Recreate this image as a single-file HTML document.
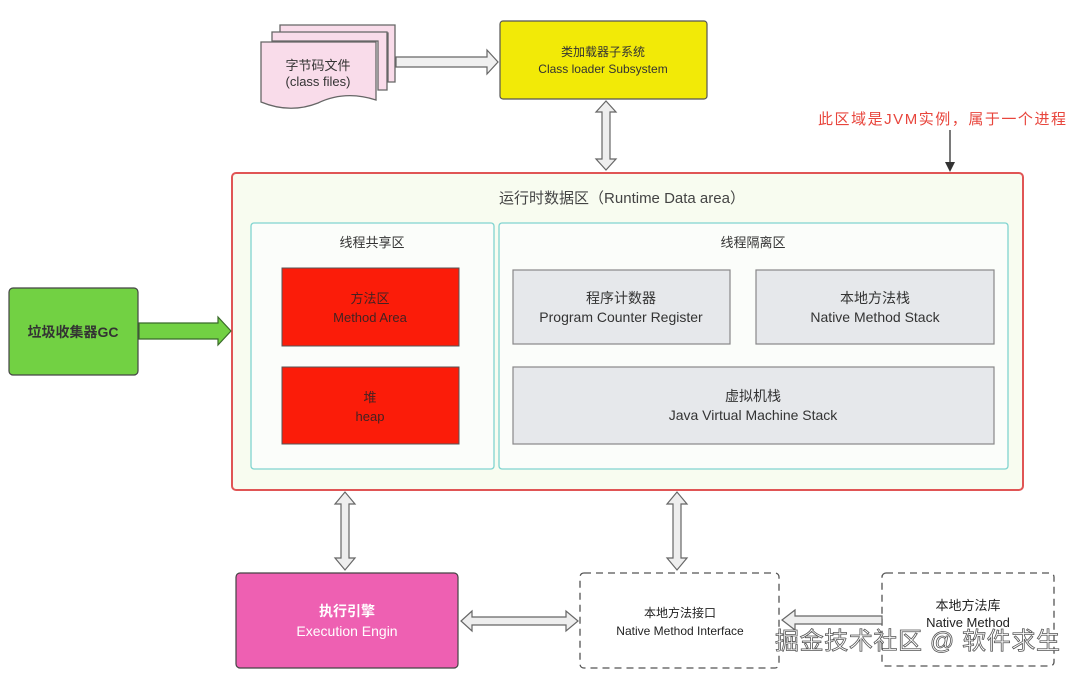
<!DOCTYPE html>
<html><head><meta charset="utf-8"><style>
html,body{margin:0;padding:0;background:#fff;width:1080px;height:674px;overflow:hidden}
svg text{font-family:"Liberation Sans","Noto Sans CJK SC",sans-serif}
</style></head><body>
<svg width="1080" height="674" viewBox="0 0 1080 674" xmlns="http://www.w3.org/2000/svg">
<g fill="#f9dcea" stroke="#666" stroke-width="1.3">
<path d="M280 25 H395 V82 H388 V33 H280 Z" />
<path d="M272 32 H387 V90 H378 V41 H272 Z"/>
<path d="M261 42 H376 V100 Q345 90 318 103 Q290 114 261 102 Z"/>
</g>
<text x="318" y="70" font-size="13" fill="#333" text-anchor="middle">字节码文件</text>
<text x="318" y="86" font-size="13" fill="#333" text-anchor="middle">(class files)</text>
<path d="M396 57 H487 V50 L498 62 L487 74 V67 H396 Z" fill="#f0f0f0" stroke="#666" stroke-width="1.2"/>
<rect x="500" y="21" width="207" height="78" rx="3" fill="#f2ea07" stroke="#555" stroke-width="1.2"/>
<text x="603" y="56" font-size="12" fill="#333" text-anchor="middle">类加载器子系统</text>
<text x="603" y="73" font-size="12" fill="#333" text-anchor="middle">Class loader Subsystem</text>
<path d="M602 112 H596 L606 101 L616 112 H610 V159 H616 L606 170 L596 159 H602 Z" fill="#eee" stroke="#666" stroke-width="1.2"/>
<text x="818" y="124" font-size="15" fill="#e8453c" textLength="248">此区域是JVM实例，属于一个进程</text>
<line x1="950" y1="130" x2="950" y2="168" stroke="#333" stroke-width="1.3"/>
<path d="M945 162 L950 172 L955 162 Z" fill="#333"/>
<rect x="232" y="173" width="791" height="317" rx="4" fill="#f8fcf0" stroke="#e05555" stroke-width="2"/>
<text x="622" y="203" font-size="15" fill="#444" text-anchor="middle">运行时数据区（Runtime Data area）</text>
<rect x="251" y="223" width="243" height="246" rx="3" fill="#fbfdfa" stroke="#80d4d0" stroke-width="1.3"/>
<rect x="499" y="223" width="509" height="246" rx="3" fill="#fbfdfa" stroke="#80d4d0" stroke-width="1.3"/>
<text x="372" y="247" font-size="13" fill="#333" text-anchor="middle">线程共享区</text>
<text x="753" y="247" font-size="13" fill="#333" text-anchor="middle">线程隔离区</text>
<rect x="282" y="268" width="177" height="78" fill="#fb1c09" stroke="#555" stroke-width="1"/>
<text x="370" y="303" font-size="13" fill="#442222" text-anchor="middle">方法区</text>
<text x="370" y="322" font-size="13" fill="#442222" text-anchor="middle">Method Area</text>
<rect x="282" y="367" width="177" height="77" fill="#fb1c09" stroke="#555" stroke-width="1"/>
<text x="370" y="402" font-size="13" fill="#442222" text-anchor="middle">堆</text>
<text x="370" y="421" font-size="13" fill="#442222" text-anchor="middle">heap</text>
<g fill="#e6e8eb" stroke="#888" stroke-width="1.2">
<rect x="513" y="270" width="217" height="74"/>
<rect x="756" y="270" width="238" height="74"/>
<rect x="513" y="367" width="481" height="77"/>
</g>
<g font-size="14" fill="#333" text-anchor="middle">
<text x="621" y="303">程序计数器</text><text x="621" y="322">Program Counter Register</text>
<text x="875" y="303">本地方法栈</text><text x="875" y="322">Native Method Stack</text>
<text x="753" y="401">虚拟机栈</text><text x="753" y="420">Java Virtual Machine Stack</text>
</g>
<rect x="9" y="288" width="129" height="87" rx="4" fill="#72d143" stroke="#444" stroke-width="1.2"/>
<text x="73" y="337" font-size="14" font-weight="bold" fill="#333" text-anchor="middle">垃圾收集器GC</text>
<path d="M139 323 H218 V317 L231 331 L218 345 V339 H139 Z" fill="#72d143" stroke="#3a6a2a" stroke-width="1.2"/>
<path d="M341 504 H335 L345 492 L355 504 H349 V558 H355 L345 570 L335 558 H341 Z" fill="#eee" stroke="#666" stroke-width="1.2"/>
<path d="M673 504 H667 L677 492 L687 504 H681 V558 H687 L677 570 L667 558 H673 Z" fill="#eee" stroke="#666" stroke-width="1.2"/>
<rect x="236" y="573" width="222" height="95" rx="4" fill="#ee60b2" stroke="#444" stroke-width="1.2"/>
<text x="347" y="616" font-size="14" font-weight="bold" fill="#fff" text-anchor="middle">执行引擎</text>
<text x="347" y="636" font-size="14" fill="#fff" text-anchor="middle">Execution Engin</text>
<path d="M472 617 V611 L461 621 L472 631 V625 H566 V631 L578 621 L566 611 V617 Z" fill="#eee" stroke="#666" stroke-width="1.2"/>
<rect x="580" y="573" width="199" height="95" rx="4" fill="#fff" stroke="#555" stroke-width="1.3" stroke-dasharray="7,5"/>
<text x="680" y="617" font-size="12" fill="#222" text-anchor="middle">本地方法接口</text>
<text x="680" y="635" font-size="12" fill="#222" text-anchor="middle">Native Method Interface</text>
<rect x="882" y="573" width="172" height="93" rx="4" fill="#fff" stroke="#555" stroke-width="1.3" stroke-dasharray="7,5"/>
<text x="968" y="610" font-size="13" fill="#222" text-anchor="middle">本地方法库</text>
<text x="968" y="627" font-size="13" fill="#222" text-anchor="middle">Native Method</text>
<path d="M882 616 H795 V610 L782 620 L795 630 V624 H882 Z" fill="#eee" stroke="#666" stroke-width="1.2"/>
<text x="775" y="649" font-size="24" fill="#fff" stroke="#555" stroke-width="0.8" textLength="285">掘金技术社区 @ 软件求生</text>
</svg>
</body></html>
